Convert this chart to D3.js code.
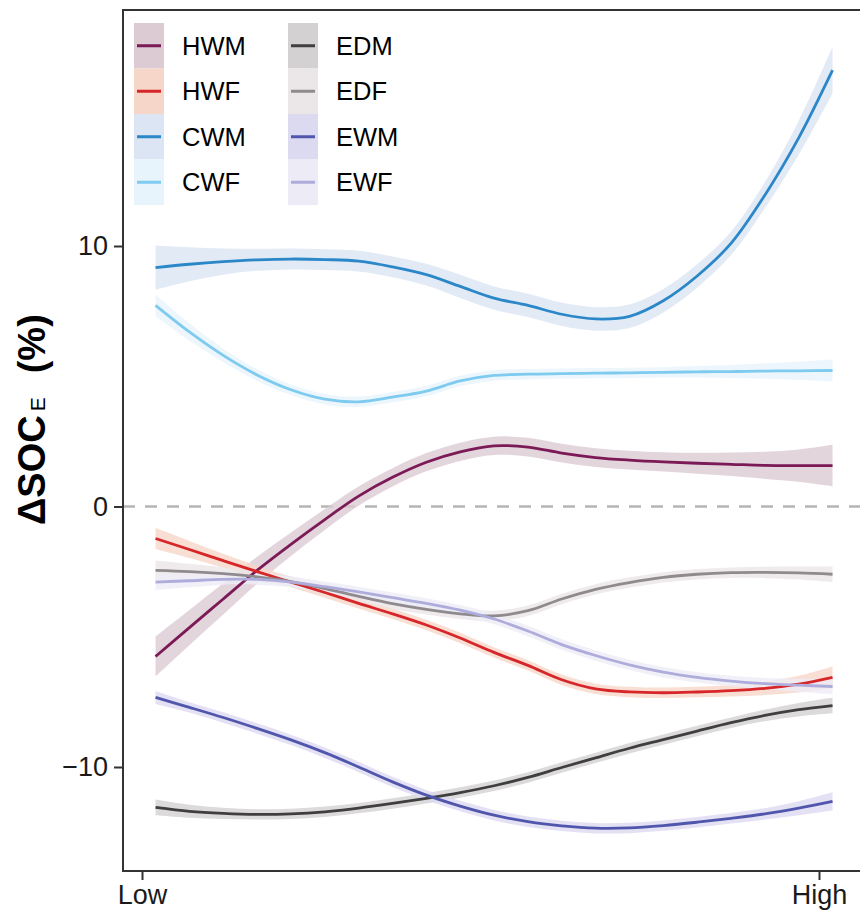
<!DOCTYPE html>
<html>
<head>
<meta charset="utf-8">
<script src="https://cdn.jsdelivr.net/npm/d3@7"></script>
<style>
  body { margin: 0; background: #fff; }
  text { font-family: "Liberation Sans", Arial, sans-serif; }
</style>
</head>
<body>
<svg width="860" height="917"></svg>
<script>
// position along the gradient (0 = Low, 1 = High)
const xs = [0.02, 0.07, 0.12, 0.17, 0.22, 0.27, 0.32, 0.37, 0.42, 0.47, 0.52,
            0.57, 0.62, 0.67, 0.72, 0.77, 0.82, 0.87, 0.92, 0.97, 1.02];

// fitted values (%)
const hwm = [-5.76, -4.65, -3.55, -2.45, -1.45, -0.5, 0.4, 1.12, 1.7, 2.1, 2.33,
             2.28, 2.05, 1.88, 1.78, 1.71, 1.66, 1.62, 1.58, 1.57, 1.57];
const hwf = [-1.23, -1.65, -2.08, -2.5, -2.9, -3.3, -3.72, -4.12, -4.55, -5.05, -5.6,
             -6.1, -6.65, -7.0, -7.12, -7.15, -7.12, -7.07, -6.98, -6.82, -6.56];
const cwm = [9.17, 9.3, 9.4, 9.47, 9.5, 9.48, 9.42, 9.2, 8.9, 8.45, 8.0,
             7.72, 7.38, 7.2, 7.3, 7.9, 8.85, 10.1, 11.95, 14.15, 16.75];
const cwf = [7.72, 6.7, 5.8, 5.05, 4.48, 4.12, 4.02, 4.2, 4.43, 4.82, 5.03,
             5.08, 5.1, 5.12, 5.13, 5.15, 5.17, 5.18, 5.2, 5.21, 5.22];
const edm = [-11.55, -11.7, -11.78, -11.82, -11.8, -11.72, -11.58, -11.4, -11.2, -10.98, -10.72,
             -10.4, -10.02, -9.65, -9.28, -8.95, -8.62, -8.3, -8.02, -7.8, -7.64];
const edf = [-2.45, -2.5, -2.58, -2.7, -2.88, -3.15, -3.45, -3.73, -3.95, -4.12, -4.2,
             -4.0, -3.55, -3.18, -2.92, -2.72, -2.6, -2.54, -2.53, -2.55, -2.6];
const ewm = [-7.33, -7.71, -8.1, -8.52, -8.96, -9.45, -10.0, -10.57, -11.08, -11.5, -11.85,
             -12.1, -12.26, -12.35, -12.34, -12.25, -12.12, -11.97, -11.8, -11.58, -11.32];
const ewf = [-2.9, -2.85, -2.8, -2.8, -2.9, -3.08, -3.28, -3.5, -3.72, -3.98, -4.32,
             -4.78, -5.3, -5.72, -6.08, -6.36, -6.56, -6.7, -6.8, -6.86, -6.91];

// half width of the confidence band
const hwmSe = [0.77, 0.68, 0.6, 0.52, 0.45, 0.4, 0.37, 0.35, 0.35, 0.35, 0.35,
               0.36, 0.36, 0.36, 0.36, 0.37, 0.4, 0.45, 0.52, 0.62, 0.8];
const hwfSe = [0.4, 0.33, 0.27, 0.22, 0.2, 0.2, 0.2, 0.2, 0.2, 0.2, 0.2,
               0.2, 0.2, 0.2, 0.2, 0.2, 0.2, 0.22, 0.26, 0.32, 0.42];
const cwmSe = [0.85, 0.65, 0.5, 0.42, 0.4, 0.4, 0.4, 0.4, 0.42, 0.45, 0.45,
               0.45, 0.45, 0.45, 0.45, 0.45, 0.45, 0.45, 0.5, 0.65, 0.9];
const cwfSe = [0.42, 0.33, 0.26, 0.22, 0.2, 0.2, 0.2, 0.2, 0.2, 0.2, 0.2,
               0.2, 0.2, 0.2, 0.2, 0.2, 0.22, 0.25, 0.3, 0.35, 0.42];
const edmSe = [0.3, 0.25, 0.22, 0.2, 0.2, 0.2, 0.2, 0.2, 0.2, 0.2, 0.2,
               0.2, 0.2, 0.2, 0.2, 0.2, 0.2, 0.2, 0.22, 0.26, 0.3];
const edfSe = [0.38, 0.3, 0.25, 0.22, 0.2, 0.2, 0.2, 0.2, 0.2, 0.2, 0.2,
               0.2, 0.2, 0.2, 0.2, 0.2, 0.2, 0.2, 0.22, 0.25, 0.3];
const ewmSe = [0.25, 0.2, 0.2, 0.2, 0.2, 0.2, 0.2, 0.2, 0.2, 0.2, 0.2,
               0.2, 0.2, 0.2, 0.2, 0.2, 0.2, 0.2, 0.22, 0.27, 0.35];
const ewfSe = [0.3, 0.25, 0.2, 0.2, 0.2, 0.2, 0.2, 0.2, 0.2, 0.2, 0.2,
               0.2, 0.2, 0.2, 0.2, 0.2, 0.2, 0.2, 0.22, 0.25, 0.3];

const names = ["HWM", "HWF", "CWM", "CWF", "EDM", "EDF", "EWM", "EWF"];
const lineColors = ["#7b1a57", "#d7262a", "#2b87c8", "#7ecbef", "#3f3f3f", "#8f8a8d", "#5156ad", "#aeacdb"];
const bandColors = ["#dccbd3", "#f6d6c8", "#dbe5f4", "#e7f4fb", "#d3d1d1", "#ebe6e8", "#dcdaf0", "#edecf6"];
const yTicks = [-10, 0, 10];
const xTickLabels = ["Low", "High"];

const series = [
  {name: "HWM", v: hwm, se: hwmSe}, {name: "HWF", v: hwf, se: hwfSe},
  {name: "CWM", v: cwm, se: cwmSe}, {name: "CWF", v: cwf, se: cwfSe},
  {name: "EDM", v: edm, se: edmSe}, {name: "EDF", v: edf, se: edfSe},
  {name: "EWM", v: ewm, se: ewmSe}, {name: "EWF", v: ewf, se: ewfSe}
];

let svg = d3.select("svg");
const panel = {left: 123, top: 10, right: 885, bottom: 871};

let xScale = d3.scaleLinear().domain([0, 1]).range([142, 819]);
let yScale = d3.scaleLinear().domain([-10, 10]).range([767, 246]);
let color = d3.scaleOrdinal().domain(names).range(lineColors);
let fillColor = d3.scaleOrdinal().domain(names).range(bandColors);

svg.append("clipPath").attr("id", "clip")
  .append("rect")
  .attr("x", panel.left).attr("y", panel.top)
  .attr("width", panel.right - panel.left).attr("height", panel.bottom - panel.top);

// zero reference line
svg.append("line")
  .attr("x1", panel.left).attr("x2", panel.right)
  .attr("y1", yScale(0)).attr("y2", yScale(0))
  .attr("stroke", "#b5b5b5").attr("stroke-width", 2.5)
  .attr("stroke-dasharray", "12,10");

let plot = svg.append("g").attr("clip-path", "url(#clip)");

let area = d3.area()
  .x((d) => xScale(d.x))
  .y0((d) => yScale(d.v - d.se))
  .y1((d) => yScale(d.v + d.se))
  .curve(d3.curveCatmullRom.alpha(0.5));

let line = d3.line()
  .x((d) => xScale(d.x))
  .y((d) => yScale(d.v))
  .curve(d3.curveCatmullRom.alpha(0.5));

let pts = (s) => xs.map((x, i) => ({x: x, v: s.v[i], se: s.se[i]}));

plot.selectAll(".band").data(series).enter()
  .append("path")
  .attr("d", (s) => area(pts(s)))
  .attr("fill", (s) => fillColor(s.name))
  .attr("fill-opacity", 0.8);

plot.selectAll(".fit").data(series).enter()
  .append("path")
  .attr("d", (s) => line(pts(s)))
  .attr("fill", "none")
  .attr("stroke", (s) => color(s.name))
  .attr("stroke-width", 2.8);

// panel border (right side falls outside the picture)
svg.append("rect")
  .attr("x", panel.left).attr("y", panel.top)
  .attr("width", panel.right - panel.left).attr("height", panel.bottom - panel.top)
  .attr("fill", "none").attr("stroke", "#333").attr("stroke-width", 2);

// axes
let yAxis = d3.axisLeft(yScale).tickValues(yTicks).tickSize(9).tickPadding(6)
  .tickFormat((d) => d < 0 ? "\u2212" + Math.abs(d) : d);
let yg = svg.append("g").attr("transform", `translate(${panel.left}, 0)`).call(yAxis);

let xAxis = d3.axisBottom(xScale).tickValues([0, 1]).tickSize(9).tickPadding(5)
  .tickFormat((d, i) => xTickLabels[i]);
let xg = svg.append("g").attr("transform", `translate(0, ${panel.bottom})`).call(xAxis);

[yg, xg].forEach((g) => {
  g.select(".domain").remove();
  g.selectAll(".tick line").attr("stroke", "#333").attr("stroke-width", 2);
  g.selectAll(".tick text").attr("fill", "#1a1a1a")
    .style("font-size", "27px").style("font-family", "Liberation Sans, Arial, sans-serif");
});

// y title
let title = svg.append("text")
  .attr("transform", "translate(45, 525) rotate(-90)")
  .attr("fill", "#000")
  .style("font-weight", "bold")
  .style("font-size", "38px");
title.append("tspan").text("\u0394SOC");
title.append("tspan").attr("dx", 4).style("font-size", "21px").style("font-weight", "normal").text("E");
title.append("tspan").attr("dx", 24).text("(%)");

// legend
const keyH = 45.5;
let legend = svg.append("g");
series.forEach((s, i) => {
  let col = Math.floor(i / 4), row = i % 4;
  let kx = col === 0 ? 134 : 288;
  let ky = 23 + row * keyH;
  legend.append("rect")
    .attr("x", kx).attr("y", ky).attr("width", 30).attr("height", keyH)
    .attr("fill", fillColor(s.name));
  legend.append("line")
    .attr("x1", kx + 3).attr("x2", kx + 27)
    .attr("y1", ky + keyH / 2).attr("y2", ky + keyH / 2)
    .attr("stroke", color(s.name)).attr("stroke-width", 3);
  legend.append("text")
    .attr("x", kx + 48).attr("y", ky + keyH / 2 + 9)
    .attr("fill", "#000")
    .style("font-size", "25.5px")
    .text(s.name);
});
</script>
</body>
</html>
